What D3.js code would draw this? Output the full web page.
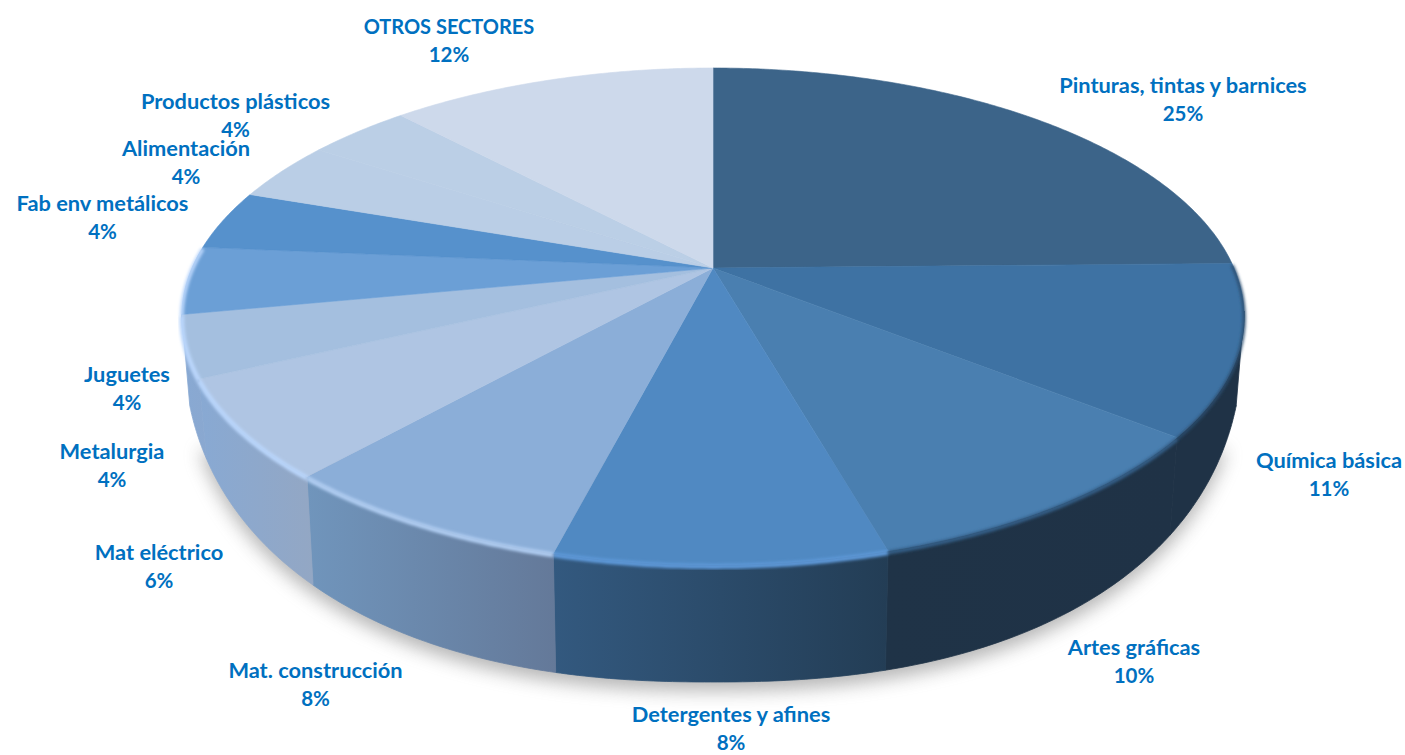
<!DOCTYPE html>
<html>
<head>
<meta charset="utf-8">
<script src="https://cdn.jsdelivr.net/npm/d3@7"></script>
<style>
    body { margin: 0; background: #fff; }
    text { font-family: Lato, "Open Sans", sans-serif; font-weight: 700; fill: #0070c0; text-anchor: middle; }
</style>
</head>
<body>
<svg id="chart" width="1405" height="755"></svg>
<script>
// data, clockwise from 12 o'clock
let sectors = ["Pinturas, tintas y barnices", "Química básica", "Artes gráficas", "Detergentes y afines",
    "Mat. construcción", "Mat eléctrico", "Metalurgia", "Juguetes", "Fab env metálicos",
    "Alimentación", "Productos plásticos", "OTROS SECTORES"];
// printed percentages
let printed = [25, 11, 10, 8, 8, 6, 4, 4, 4, 4, 4, 12];
// slice sizes as drawn in the picture (they differ a little from the printed ones)
let shares = [24.7, 11, 9.9, 8.4, 7.6, 6.4, 4, 4.4, 3.9, 3.9, 3.8, 12];

// styles
let topColors = ["#3c6489", "#3e72a3", "#4a7fb0", "#5089c2", "#8baed8", "#afc5e3",
    "#a4bfdf", "#6b9fd6", "#5691cc", "#bacee6", "#bbcfe6", "#cdd9eb"];
let wallLeft = ["#1f3246", "#1f3246", "#1f3347", "#33597f", "#7095bc", "#88a9d3", "#88a9d3", "none", "none", "none", "none", "none"];
let wallRight = ["#1f3246", "#1f3246", "#1f3246", "#233d55", "#647999", "#93a7c4", "#8aa8d0", "none", "none", "none", "none", "none"];
let rimColors = ["none", "#2b4e70", "#35608a", "#5e9ada", "#b0cdf2", "#bad6fb", "#bad6fb", "#bad6fb", "none", "none", "none", "none"];
let rimWidths = [0, 3, 4, 5, 5, 5, 5, 4, 0, 0, 0, 0];

// label centre and first baseline
let labelPos = [[1183, 93], [1329, 468], [1134, 655], [731, 722], [315.5, 678], [159, 560],
    [112, 459], [127, 382], [102.5, 211], [186, 156], [235.5, 109], [449, 34]];

let chart = d3.select("#chart");
let defs = chart.append("defs");

// perspective of the disc
let cx = 713, cy = 268, A = 521, B = 239, k = 0.195;
function rim(a) {
    let u = Math.sin(a), v = -Math.cos(a);
    let d = 1 - k * v;
    return [cx + A * u / d, cy + B * v / d];
}
// lower edge of the side wall
function base(a) {
    let p = rim(a);
    let dx = (p[0] - cx) * 0.985;
    let t = Math.min(1, Math.abs(dx) / 530);
    return [cx + dx, 330 + 352 * Math.pow(1 - Math.pow(t, 2.3), 1 / 2.3)];
}
function samples(a0, a1) {
    let s = d3.range(a0, a1, 0.01);
    s.push(a1);
    return s;
}

let line = d3.line();
let arcs = d3.pie().sort(null)(shares);

let blur = function(id, dev) {
    defs.append("filter").attr("id", id)
        .attr("x", "-20%").attr("y", "-20%").attr("width", "140%").attr("height", "140%")
        .append("feGaussianBlur").attr("stdDeviation", dev);
};
blur("shadow", 9);
blur("soft", 1.6);

// shadow under the disc
let silhouette = samples(Math.PI * 0.5, Math.PI * 1.5).map(base);
chart.append("path")
    .attr("d", line(silhouette) + "Z")
    .attr("transform", "translate(0,9)")
    .attr("fill", "#7a7a7a")
    .attr("opacity", 0.55)
    .attr("filter", "url(#shadow)");

let wallFrom = 100 * Math.PI / 180, wallTo = 260 * Math.PI / 180;

// side walls
arcs.forEach(function(d, i) {
    if (wallLeft[i] == "none") return;
    let a0 = Math.max(d.startAngle, wallFrom), a1 = Math.min(d.endAngle, wallTo);
    if (a0 >= a1) return;
    let s = samples(a0, a1);
    let top = s.map(rim), bottom = s.map(base).reverse();
    let xs = d3.extent(top.concat(bottom), function(p) { return p[0]; });
    let grad = defs.append("linearGradient").attr("id", "wall" + i)
        .attr("gradientUnits", "userSpaceOnUse")
        .attr("x1", xs[0]).attr("x2", xs[1]).attr("y1", 0).attr("y2", 0);
    grad.append("stop").attr("offset", 0).attr("stop-color", wallLeft[i]);
    grad.append("stop").attr("offset", 1).attr("stop-color", wallRight[i]);
    chart.append("path")
        .attr("d", line(top.concat(bottom)) + "Z")
        .attr("fill", "url(#wall" + i + ")")
        .attr("stroke", "url(#wall" + i + ")")
        .attr("stroke-width", 0.8);
});

// top of the disc
arcs.forEach(function(d, i) {
    let pts = [[cx, cy]].concat(samples(d.startAngle, d.endAngle).map(rim));
    chart.append("path")
        .attr("d", line(pts) + "Z")
        .attr("fill", topColors[i])
        .attr("stroke", topColors[i])
        .attr("stroke-width", 0.6);
});

// soft bevel along the front edge
arcs.forEach(function(d, i) {
    if (rimColors[i] == "none") return;
    let pts = samples(d.startAngle, d.endAngle).map(function(a) {
        let p = rim(a);
        return [p[0], p[1] + 1.5];
    });
    chart.append("path")
        .attr("d", line(pts))
        .attr("fill", "none")
        .attr("stroke", rimColors[i])
        .attr("stroke-width", rimWidths[i])
        .attr("filter", "url(#soft)");
});

// labels
sectors.forEach(function(name, i) {
    chart.append("text")
        .attr("x", labelPos[i][0]).attr("y", labelPos[i][1])
        .style("font-size", name == name.toUpperCase() ? "20px" : "21.8px")
        .text(name);
    chart.append("text")
        .attr("x", labelPos[i][0]).attr("y", labelPos[i][1] + 28)
        .style("font-size", "20.5px")
        .text(printed[i] + "%");
});
</script>
</body>
</html>
